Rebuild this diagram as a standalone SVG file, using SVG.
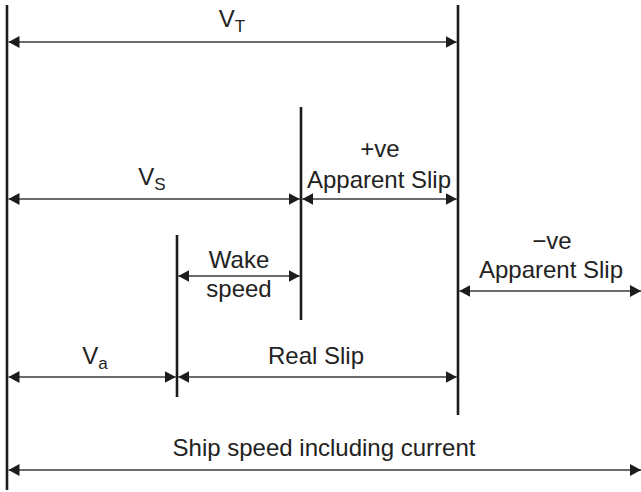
<svg xmlns="http://www.w3.org/2000/svg" width="641" height="492" viewBox="0 0 641 492">
<style>
.bar{stroke:#1c1c1c;stroke-width:2.6;fill:none}
.dim{stroke:#3a3a3a;stroke-width:1.6;fill:none;marker-start:url(#ah);marker-end:url(#ah)}
text{font-family:"Liberation Sans",Arial,sans-serif;font-size:24px;fill:#222;text-anchor:middle}
.sub{font-size:17px}
</style>
<defs>
<marker id="ah" viewBox="0 0 11 12" refX="11" refY="6" markerWidth="11" markerHeight="12" markerUnits="userSpaceOnUse" orient="auto-start-reverse">
<path d="M0,0 L11,6 L0,12 z" fill="#1c1c1c"/>
</marker>
</defs>
<rect width="641" height="492" fill="#fff"/>
<g id="bars">
<line class="bar" x1="7" y1="5" x2="7" y2="490"/>
<line class="bar" x1="458" y1="5" x2="458" y2="415"/>
<line class="bar" x1="301" y1="107" x2="301" y2="320"/>
<line class="bar" x1="177" y1="235" x2="177" y2="397"/>
</g>
<g id="connectors">
<line class="dim" x1="8.5" y1="42" x2="456.7" y2="42"/>
<line class="dim" x1="8.5" y1="199" x2="299.7" y2="199"/>
<line class="dim" x1="302.3" y1="199" x2="456.7" y2="199"/>
<line class="dim" x1="459.3" y1="291" x2="641" y2="291"/>
<line class="dim" x1="178.3" y1="276" x2="299.7" y2="276"/>
<line class="dim" x1="8.5" y1="377" x2="175.7" y2="377"/>
<line class="dim" x1="178.3" y1="377" x2="456.7" y2="377"/>
<line class="dim" x1="8.5" y1="470" x2="641" y2="470"/>
</g>
<g id="vt"><text x="232" y="27">V<tspan class="sub" dy="5">T</tspan></text></g>
<g id="vs"><text x="152" y="185">V<tspan class="sub" dy="5">S</tspan></text></g>
<g id="pos-slip"><text x="380" y="157">+ve</text><text x="379" y="188">Apparent Slip</text></g>
<g id="neg-slip"><text x="552" y="249">−ve</text><text x="551" y="278">Apparent Slip</text></g>
<g id="wake"><text x="239" y="268">Wake</text><text x="239" y="297">speed</text></g>
<g id="va"><text x="95" y="364">V<tspan class="sub" dy="5">a</tspan></text></g>
<g id="real-slip"><text x="316" y="364">Real Slip</text></g>
<g id="ship-speed"><text x="324" y="456">Ship speed including current</text></g>
</svg>
